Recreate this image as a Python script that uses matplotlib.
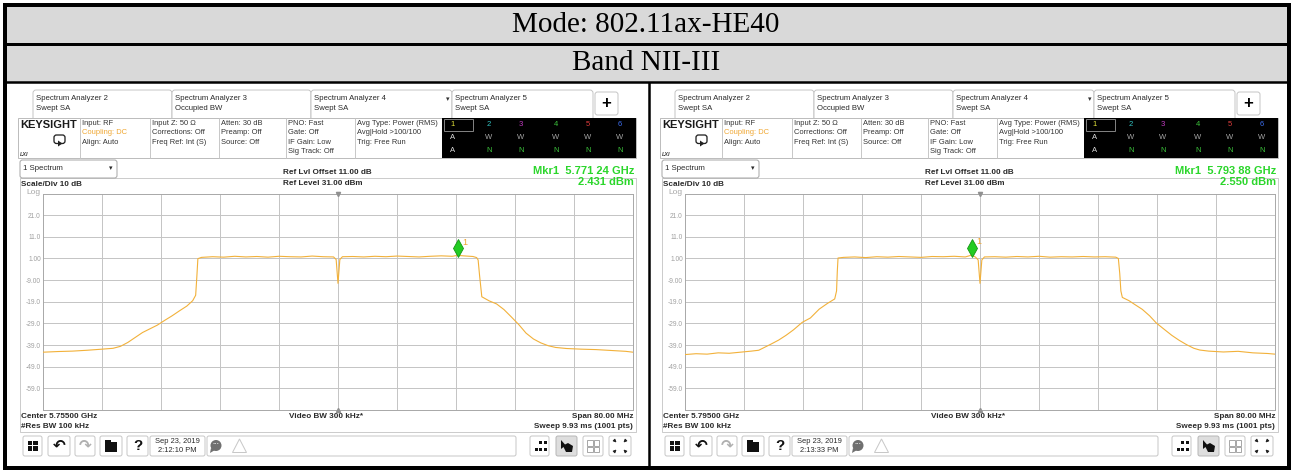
import matplotlib
matplotlib.use("Agg")
import matplotlib.pyplot as plt
from matplotlib.patches import Rectangle, FancyBboxPatch, Polygon, Circle
from matplotlib.transforms import offset_copy

plt.rcParams['font.family'] = ['Liberation Sans', 'DejaVu Sans']

# ---------------- data ----------------
title_mode = "Mode: 802.11ax-HE40"
title_band = "Band NII-III"

tab_titles = ["Spectrum Analyzer 2", "Spectrum Analyzer 3", "Spectrum Analyzer 4", "Spectrum Analyzer 5"]
tab_modes = ["Swept SA", "Occupied BW", "Swept SA", "Swept SA"]
info_cols = [["Input: RF", "Coupling: DC", "Align: Auto"],
             ["Input Z: 50 \u03a9", "Corrections: Off", "Freq Ref: Int (S)"],
             ["Atten: 30 dB", "Preamp: Off", "Source: Off"],
             ["PNO: Fast", "Gate: Off", "IF Gain: Low", "Sig Track: Off"],
             ["Avg Type: Power (RMS)", "Avg|Hold >100/100", "Trig: Free Run"]]
trace_nums = ["1", "2", "3", "4", "5", "6"]
trace_row2 = ["A", "W", "W", "W", "W", "W"]
trace_row3 = ["A", "N", "N", "N", "N", "N"]

center_ghz = [5.755, 5.795]
span_mhz = 80.0
ref_level = 31.0
scale_div = 10.0
marker_freq_ghz = [5.77124, 5.79388]
marker_level_dbm = [2.431, 2.550]
marker_freq_label = ["5.771 24 GHz", "5.793 88 GHz"]
center_label = ["Center 5.75500 GHz", "Center 5.79500 GHz"]
date_label = "Sep 23, 2019"
timestamps = ["2:12:10 PM", "2:13:33 PM"]
ytick_values = [21, 11, 1, -9, -19, -29, -39, -49, -59]
ytick_labels = ["21.0", "11.0", "1.00", "-9.00", "-19.0", "-29.0", "-39.0", "-49.0", "-59.0"]

# trace readings: offset from center (MHz) and level (dBm)
left_offsets = [-40.0, -38.0, -36.0, -34.0, -32.0, -30.5, -29.5, -28.5, -27.5, -26.5, -25.5, -24.5,
                -23.5, -22.5, -21.5, -20.5, -19.7, -19.3, -19.15, -19.0,
                -18.5, -17.0, -15.5, -14.0, -12.5, -11.0, -9.5, -8.0, -6.5, -5.0, -3.5, -2.0, -0.6,
                -0.25, 0.0, 0.25, 0.6, 2.0, 3.5, 5.0, 6.5, 8.0, 9.5, 11.0, 12.5, 14.0, 15.5, 16.24,
                17.0, 18.3, 18.8,
                19.0, 19.2, 19.5, 20.5, 21.5, 22.5, 23.5, 24.5, 25.5, 26.5, 27.5, 28.5, 29.5, 31.0,
                33.0, 35.0, 37.0, 39.0, 40.0]
left_levels = [-42.3, -42.0, -41.8, -41.4, -40.9, -40.5, -39.6, -37.8, -35.5, -33.2, -31.5, -29.8,
               -27.6, -25.5, -23.2, -21.0, -18.5, -16.0, -8.0, 0.9,
               1.5, 1.8, 1.6, 2.0, 1.7, 1.9, 1.6, 2.0, 1.8, 1.7, 2.1, 1.8, 1.7,
               0.5, -10.5, 0.5, 1.8, 1.9, 1.7, 2.0, 1.8, 2.1, 1.9, 1.7, 2.0, 2.2, 2.0, 2.431,
               2.2, 1.9, 1.4,
               0.3, -7.0, -16.7, -18.6, -20.0, -22.6, -26.0, -29.5, -33.5, -36.2, -38.0, -39.3, -40.1, -40.6,
               -40.9, -41.1, -41.5, -41.9, -42.3]
right_offsets = [-40.0, -38.5, -37.0, -35.5, -34.0, -32.5, -31.0, -30.0, -29.3, -28.3, -27.3, -26.3,
                 -25.3, -24.1, -23.0, -21.8, -20.7, -19.7, -19.45, -19.35, -19.25,
                 -18.5, -17.0, -15.5, -14.0, -12.5, -11.0, -9.5, -8.0, -6.5, -5.0, -3.5, -2.0, -1.12,
                 -0.6, -0.25, 0.0, 0.25, 0.6, 2.0, 3.5, 5.0, 6.5, 8.0, 9.5, 11.0, 12.5, 14.0, 15.5,
                 17.0, 18.4, 18.76,
                 18.95, 19.1, 19.3, 20.2, 21.0, 22.0, 23.0, 23.9, 25.0, 26.0, 27.0, 28.0, 29.0, 29.8,
                 31.0, 33.0, 35.0, 37.0, 39.0, 40.0]
right_levels = [-43.4, -43.0, -43.2, -42.6, -42.8, -42.3, -41.8, -41.4, -40.2, -38.5, -36.7, -34.5,
                -32.0, -28.5, -26.5, -22.4, -19.8, -17.7, -14.0, -5.0, 1.2,
                1.5, 1.7, 1.4, 1.8, 1.6, 1.9, 1.7, 1.5, 1.9, 1.8, 2.0, 1.7, 2.55,
                1.6, 0.3, -10.5, 0.3, 1.7, 1.8, 1.6, 1.9, 1.7, 2.0, 1.6, 1.8, 1.7, 1.9, 1.7,
                1.8, 1.6, 1.0,
                -6.0, -14.0, -17.0, -18.5, -20.3, -22.5, -25.5, -28.8, -31.8, -34.5, -36.8, -38.8, -40.5, -41.3,
                -41.8, -42.2, -41.9, -42.6, -42.9, -43.2]
trace_offsets = [left_offsets, right_offsets]
trace_levels = [left_levels, right_levels]

# ---------------- figure ----------------
W, H, DPI = 1291, 471, 100
fig = plt.figure(figsize=(W / DPI, H / DPI), dpi=DPI)
fig.patch.set_facecolor('white')
bg = fig.add_axes([0, 0, 1, 1])
bg.set_xlim(0, W)
bg.set_ylim(H, 0)
bg.axis('off')


def px(w):
    return w * 72.0 / DPI


def rect(x0, y0, x1, y1, fc='none', ec='none', lw=1.0, z=1):
    bg.add_patch(Rectangle((x0, y0), x1 - x0, y1 - y0, facecolor=fc, edgecolor=ec,
                           linewidth=px(lw), zorder=z))


def rbox(x0, y0, x1, y1, fc='white', ec='#c4c4c4', lw=1.0, r=2.5, z=2):
    bg.add_patch(FancyBboxPatch((x0, y0), x1 - x0, y1 - y0,
                                boxstyle=f"round,pad=0,rounding_size={r}",
                                facecolor=fc, edgecolor=ec, linewidth=px(lw), zorder=z))


def line(x0, y0, x1, y1, color='black', lw=1.0, z=3):
    bg.plot([x0, x1], [y0, y1], color=color, linewidth=px(lw), zorder=z, solid_capstyle='butt')


def txt(x, y, s, size=5.6, color='#2a2a2a', weight='normal', ha='left', va='center', z=6, **kw):
    bg.text(x, y, s, fontsize=size, color=color, fontweight=weight, ha=ha, va=va, zorder=z, **kw)


# header
rect(5, 5, 1289, 82, fc='#d9d9d9', z=0)
line(5, 44, 1289, 44, lw=3, z=8)
line(5, 82, 1289, 82, lw=2.5, z=8)
line(649, 82, 649, 468, lw=2.5, z=8)
rect(5, 5, 1289, 468, ec='black', lw=4, z=9)
txt(646, 25, title_mode, size=21, color='black', ha='center', family='Liberation Serif')
txt(646, 63.5, title_band, size=21, color='black', ha='center', family='Liberation Serif')


def draw_panel(k, dx):
    def X(x):
        return x + dx

    # tabs
    tab_x = [(33, 172), (172, 311), (311, 452), (452, 593)]
    for (a, b), t1, t2 in zip(tab_x, tab_titles, tab_modes):
        rbox(X(a), 90, X(b), 124, ec='#c0c0c0', lw=0.9, r=3, z=2)
        txt(X(a) + 3, 98, t1, size=5.6)
        txt(X(a) + 3, 108, t2, size=5.6)
    txt(X(448), 99, '\u25be', size=5, color='#333333', ha='center', family='DejaVu Sans')
    rbox(X(595), 92, X(618), 115, ec='#c0c0c0', lw=0.9, r=2.5)
    txt(X(606.5), 103.5, '+', size=12, weight='bold', ha='center', color='black')

    # info row
    rect(X(18), 118, X(636), 158, fc='white', ec='#bdbdbd', lw=1.0, z=3)
    txt(X(20), 124.5, 'KEYSIGHT', size=8, weight='bold', color='#1a1a1a')
    rbox(X(54), 135, X(65), 143.5, fc='white', ec='#222222', lw=1.3, r=2.5, z=6)
    bg.add_patch(Polygon([(X(58), 140.5), (X(62.5), 143.5), (X(58), 146.5)], closed=True,
                         facecolor='#222222', edgecolor='none', zorder=7))
    txt(X(20), 154, 'LXI', size=4, style='italic', weight='bold', color='#444444')
    for xd in [80, 150, 219, 286, 355]:
        line(X(xd), 118, X(xd), 158, color='#c8c8c8', lw=1, z=4)
    col_x = [82, 152, 221, 288, 357]
    row_y = [123.5, 132.8, 142, 151.5]
    for cx, col in zip(col_x, info_cols):
        for j, s in enumerate(col):
            c = '#f0a732' if s.startswith('Coupling') else '#333333'
            txt(X(cx), row_y[j], s, size=5.4, color=c)

    # trace status block
    rect(X(442), 118, X(636), 158, fc='black', z=5)
    rect(X(443.5), 119, X(473), 131, ec='#808080', lw=1, z=6)
    tcols = [453, 489, 521, 556, 588, 620]
    tnum_colors = ['#e3e33a', '#33c4c4', '#c23cc2', '#3cc43c', '#e03c3c', '#3c6ef0']
    for x, n, c, a, b in zip(tcols, trace_nums, tnum_colors, trace_row2, trace_row3):
        txt(X(x), 124.5, n, size=5.5, color=c, ha='center', z=7)
        txt(X(x), 137.5, a, size=5.5, color='#dcdcdc' if a == 'A' else '#a8a8a8', ha='center', z=7)
        txt(X(x), 150.5, b, size=5.5, color='#dcdcdc' if b == 'A' else '#3cc43c', ha='center', z=7)

    # screen frame and annotations
    rect(X(20), 178, X(636), 432, ec='#cccccc', lw=1, z=1)
    rbox(X(20), 160, X(117), 178, ec='#a8a8a8', lw=1, r=2.5, z=4)
    txt(X(23), 169, '1 Spectrum', size=5.6)
    txt(X(111), 168.5, '\u25be', size=5, ha='center', family='DejaVu Sans')
    txt(X(21), 184.5, 'Scale/Div 10 dB', size=5.9, weight='bold')
    txt(X(26), 193, 'Log', size=6, color='#a8a8a8')
    txt(X(283), 173, 'Ref Lvl Offset 11.00 dB', size=5.9, weight='bold')
    txt(X(283), 183.5, 'Ref Level 31.00 dBm', size=5.9, weight='bold')
    txt(X(634), 174.3, 'Mkr1  ' + marker_freq_label[k], size=8.0, weight='bold',
        color='#2bd62b', ha='right', va='baseline')
    txt(X(634), 184.8, f'{marker_level_dbm[k]:.3f} dBm', size=8.0, weight='bold',
        color='#2bd62b', ha='right', va='baseline')

    # bottom annotations
    txt(X(21), 416.5, center_label[k], size=5.9, weight='bold')
    txt(X(21), 427, '#Res BW 100 kHz', size=5.9, weight='bold')
    txt(X(289), 416.5, 'Video BW 300 kHz*', size=5.9, weight='bold')
    txt(X(633), 416.5, 'Span 80.00 MHz', size=5.9, weight='bold', ha='right')
    txt(X(633), 427, 'Sweep 9.93 ms (1001 pts)', size=5.9, weight='bold', ha='right')

    # toolbar
    for a, b in [(23, 42), (48, 70), (75, 95), (100, 122), (127, 148)]:
        rbox(X(a), 436, X(b), 456, ec='#c8c8c8', lw=1, r=2)
    for (a, b) in [(27.5, 440.5), (33, 440.5), (27.5, 446), (33, 446)]:
        rect(X(a), b, X(a + 4.5), b + 4.5, fc='#111111', z=4)
    txt(X(59), 445.5, '\u21b6', size=11, weight='bold', ha='center', color='#111111', family='DejaVu Sans')
    txt(X(85), 445.5, '\u21b7', size=11, weight='bold', ha='center', color='#b0b0b0', family='DejaVu Sans')
    rect(X(105), 441.5, X(117), 452, fc='#111111', z=4)
    rect(X(105), 439.5, X(110.5), 442, fc='#111111', z=4)
    txt(X(137.5), 446, '?', size=11, weight='bold', ha='center', color='#111111')
    rbox(X(150), 436, X(205), 456, ec='#c8c8c8', lw=1, r=2)
    txt(X(177.5), 441.5, date_label, size=5.4, ha='center')
    txt(X(177.5), 450.5, timestamps[k], size=5.4, ha='center')
    rbox(X(207), 436, X(516), 456, ec='#c8c8c8', lw=1, r=2)
    bg.add_patch(Circle((X(216), 445.5), 5.5, facecolor='#707070', edgecolor='none', zorder=4))
    bg.add_patch(Polygon([(X(211), 448), (X(210), 453), (X(215), 450)], closed=True,
                         facecolor='#707070', edgecolor='none', zorder=4))
    txt(X(216), 445, '\u00b7\u00b7\u00b7', size=5, ha='center', color='white', weight='bold')
    bg.add_patch(Polygon([(X(232.5), 452.5), (X(246.5), 452.5), (X(239.5), 439)], closed=True,
                         facecolor='none', edgecolor='#c8c8c8', linewidth=px(1), zorder=4))
    rbox(X(530), 436, X(549), 456, ec='#c8c8c8', lw=1, r=2)
    rbox(X(556), 436, X(577), 456, fc='#dedede', ec='#b8b8b8', lw=1, r=2)
    rbox(X(583), 436, X(603), 456, ec='#c8c8c8', lw=1, r=2)
    rbox(X(609), 436, X(631), 456, ec='#c8c8c8', lw=1, r=2)
    for (a, b) in [(539, 441), (543.5, 441), (534.5, 447.5), (539, 447.5), (543.5, 447.5)]:
        rect(X(a), b, X(a + 3), b + 3, fc='#111111', z=4)
    bg.add_patch(Polygon([(X(561), 440), (X(561), 449), (X(563.5), 447), (X(566), 452),
                          (X(572), 452), (X(573), 446), (X(568), 443), (X(565), 444.5)],
                         closed=True, facecolor='#111111', edgecolor='none', zorder=4))
    for (a, b) in [(587, 440), (593.5, 440), (587, 446.5), (593.5, 446.5)]:
        rect(X(a), b, X(a + 5.5), b + 5.5, ec='#a8a8a8', lw=1, z=4)
    cx, cy = X(620), 446
    for sx, sy in [(-1, -1), (1, -1), (-1, 1), (1, 1)]:
        bg.annotate('', xy=(cx + sx * 1.5, cy + sy * 1.5), xytext=(cx + sx * 7, cy + sy * 7),
                    arrowprops=dict(arrowstyle='-|>', lw=0.8, color='#222222', mutation_scale=4),
                    zorder=5)

    # spectrum plot
    ax = fig.add_axes([X(43) / W, 1 - 410 / H, 590 / W, 216.5 / H])
    ax.set_facecolor('white')
    c = center_ghz[k]
    half = span_mhz / 2000.0
    freqs = [c + o / 1000.0 for o in trace_offsets[k]]
    ax.set_xlim(c - half, c + half)
    ax.set_ylim(ref_level - 10 * scale_div, ref_level)
    ax.set_xticks([c - half + i * span_mhz / 10000.0 for i in range(1, 10)])
    ax.set_xticklabels([])
    ax.set_yticks(ytick_values)
    ax.set_yticklabels(ytick_labels)
    ax.tick_params(length=0, labelsize=4.8, labelcolor='#a0a0a0', pad=1.5)
    ax.grid(True, color='#c4c4c4', linewidth=0.7)
    ax.set_axisbelow(True)
    for s in ax.spines.values():
        s.set_color('#a8a8a8')
        s.set_linewidth(0.7)
    ax.plot(freqs, trace_levels[k], color='#f2b13a', linewidth=0.8, zorder=3)
    ax.plot([c], [ref_level], marker='v', ms=3, color='#909090', clip_on=False, zorder=4)
    ax.plot([c], [ref_level - 10 * scale_div], marker='^', ms=3, color='#909090', clip_on=False, zorder=4)
    tr = offset_copy(ax.transData, fig=fig, x=0, y=5, units='points')
    ax.plot([marker_freq_ghz[k]], [marker_level_dbm[k]], marker='d', ms=9, mfc='#22cc22',
            mec='#149614', mew=0.6, transform=tr, zorder=5, clip_on=False)
    ax.annotate('1', (marker_freq_ghz[k], marker_level_dbm[k]), xytext=(3.5, 9.5),
                textcoords='offset points', color='#f0a732', fontsize=6.5, ha='left', va='center',
                zorder=6)


draw_panel(0, 0)
draw_panel(1, 642)

fig.savefig('out.png', dpi=DPI, facecolor='white')
